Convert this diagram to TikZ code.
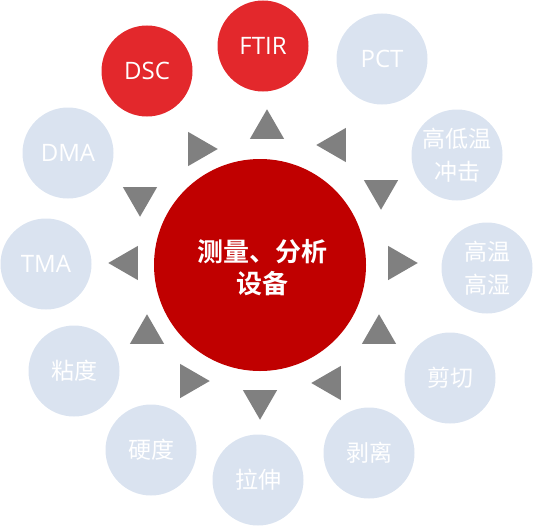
\documentclass[tikz,border=0pt]{standalone}
\usepackage{fontspec}
\setmainfont{Noto Sans CJK SC}[BoldFont={Noto Sans CJK SC Bold}]
\newfontfamily\latinlabel{Open Sans}
\usetikzlibrary{shapes.geometric}
\definecolor{cred}{HTML}{C00000}
\definecolor{ored}{HTML}{E3282C}
\definecolor{oblue}{HTML}{DAE3F0}
\definecolor{tgray}{HTML}{808080}
\tikzset{
  outer/.style={circle, minimum size=91pt, inner sep=0pt, fill=oblue, text=white, align=center,
    font=\fontsize{23}{33}\selectfont},
  latin/.style={font=\latinlabel\fontsize{24}{30}\selectfont},
  outerred/.style={outer, fill=ored},
  center/.style={circle, minimum size=212pt, inner sep=0pt, fill=cred},
  centertext/.style={text=white, align=center, inner sep=0pt,
    font=\fontsize{26}{32}\selectfont\bfseries},
  tri/.style={regular polygon, regular polygon sides=3, minimum size=39.5pt, inner sep=0pt, fill=tgray, draw=none},
  tup/.style={tri},
  tdown/.style={tri, shape border rotate=180},
  tleft/.style={tri, shape border rotate=90},
  tright/.style={tri, shape border rotate=-90},
}
\begin{document}
\begin{tikzpicture}[x=1pt,y=-1pt]
\useasboundingbox (0,0) rectangle (534,527);
\node[center] (c) at (260,265) {};
\node[centertext] (ctext) at (262,268) {测量、分析\\设备};
\node[outerred, latin] (dsc) at (147,71) {DSC};
\node[outerred, latin] (ftir) at (263,46) {FTIR};
\node[outer, latin] (pct) at (382,59) {PCT};
\node[outer] (gdw) at (457,155) {高低温\\冲击};
\node[outer] (gwgs) at (487,268) {高温\\高湿};
\node[outer] (jq) at (450,378) {剪切};
\node[outer] (bl) at (369,453) {剥离};
\node[outer] (ls) at (258,480) {拉伸};
\node[outer] (yd) at (151,450) {硬度};
\node[outer] (nd) at (74,371) {粘度};
\node[outer, latin] (tma) at (46,264) {TMA};
\node[outer, latin] (dma) at (68,153) {DMA};
\node[tup] (t1) at (267,129) {};
\node[tleft] (t2) at (336,145) {};
\node[tdown] (t3) at (381,190) {};
\node[tright] (t4) at (398,263) {};
\node[tup] (t5) at (379,334) {};
\node[tleft] (t6) at (331,383) {};
\node[tdown] (t7) at (260,400) {};
\node[tright] (t8) at (190,381) {};
\node[tup] (t9) at (147,334) {};
\node[tleft] (t10) at (128,263) {};
\node[tdown] (t11) at (140,197) {};
\node[tright] (t12) at (198,149) {};
\end{tikzpicture}
\end{document}
